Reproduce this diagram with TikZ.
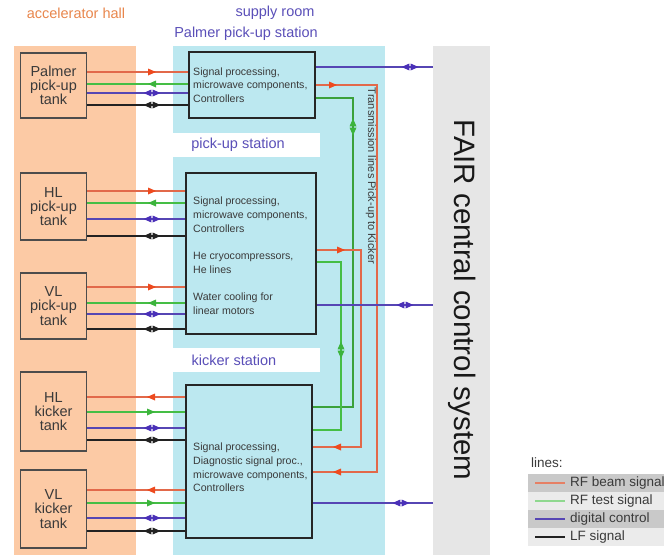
\documentclass[tikz,border=0pt]{standalone}
\usepackage{fontspec}
\setmainfont{Liberation Sans}
\usetikzlibrary{calc}
\definecolor{hallbg}{HTML}{FCCAA5}
\definecolor{roombg}{HTML}{BCE8F0}
\definecolor{fairbg}{HTML}{E6E6E6}
\definecolor{hdrblue}{HTML}{5A4FB8}
\definecolor{hdrorange}{HTML}{E8864C}
\definecolor{rfbcol}{HTML}{E2694A}
\definecolor{rfbtip}{HTML}{EE4A1E}
\definecolor{rftcol}{HTML}{45BE45}
\definecolor{rfttip}{HTML}{3CB43C}
\definecolor{digcol}{HTML}{5646B4}
\definecolor{digtip}{HTML}{4A30B8}
\definecolor{lfcol}{HTML}{222222}
\definecolor{legdark}{HTML}{C9C9C9}
\definecolor{leglight}{HTML}{EBEBEB}
\definecolor{txtcol}{HTML}{3A3A3A}
\tikzset{
  rfbline/.style={draw=rfbcol, line width=1.4pt},
  rftline/.style={draw=rftcol, line width=1.3pt},
  rftthick/.style={draw=rftcol!85!black, line width=1.9pt},
  digline/.style={draw=digcol, line width=1.4pt},
  lfline/.style={draw=lfcol, line width=1.3pt},
  tank/.style={draw=black!70, line width=1.3pt, fill=hallbg, minimum width=66pt,
    align=center, text=txtcol, font=\fontsize{14.5}{14.2}\selectfont, inner sep=0pt},
  stn/.style={draw=black!85, line width=2pt, fill=roombg},
  stntext/.style={anchor=west, align=left, text=txtcol, inner sep=0pt,
    font=\fontsize{10.6}{13.7}\selectfont},
  hdr/.style={text=hdrblue, inner sep=0pt, font=\fontsize{14.5}{17}\selectfont},
  rtip/.pic={\fill (0,0)--(-8,-3.5)--(-8,3.5)--cycle;},
  ltip/.pic={\fill (0,0)--(8,-3.5)--(8,3.5)--cycle;},
  hdbl/.pic={\fill (-8.5,0)--(-0.6,-3.5)--(-0.6,3.5)--cycle; \fill (8.5,0)--(0.6,-3.5)--(0.6,3.5)--cycle;},
  vdbl/.pic={\fill (0,-8.5)--(-3.5,-0.6)--(3.5,-0.6)--cycle; \fill (0,8.5)--(-3.5,0.6)--(3.5,0.6)--cycle;},
  legline/.style={line width=1.4pt},
}
\begin{document}
\begin{tikzpicture}[x=1pt,y=-1pt]
\useasboundingbox (0,0) rectangle (664,555);
% backgrounds
\fill[hallbg] (14,46) rectangle (136,555);
\fill[roombg] (173,46) rectangle (385,555);
\node[fill=fairbg, minimum width=57pt, minimum height=509pt, inner sep=0pt] (fair) at (461.5,300.5) {};
\fill[white] (173,133) rectangle (320,157);
\fill[white] (173,348) rectangle (320,372);
% headers
\node[hdr, text=hdrorange] (hhall) at (76,13) {accelerator hall};
\node[hdr] (hroom) at (275,13) {supply room};
\node[hdr] (hpalm) at (246,34) {Palmer pick-up station};
\node[hdr] (hpu) at (238,145) {pick-up station};
\node[hdr] (hki) at (234,360) {kicker station};
% stations
\node[stn, minimum width=126pt, minimum height=66pt] (sP) at (252,85) {};
\node[stn, minimum width=130pt, minimum height=161pt] (sU) at (251,253.5) {};
\node[stn, minimum width=126pt, minimum height=153pt] (sK) at (249,461.5) {};
% tanks
\node[tank, minimum height=65pt] (tP) at (53.5,85.5) {Palmer\\pick-up\\tank};
\node[tank, minimum height=67pt] (tHP) at (53.5,206.5) {HL\\pick-up\\tank};
\node[tank, minimum height=66pt] (tVP) at (53.5,306) {VL\\pick-up\\tank};
\node[tank, minimum height=79pt] (tHK) at (53.5,411.5) {HL\\kicker\\tank};
\node[tank, minimum height=78pt] (tVK) at (53.5,509) {VL\\kicker\\tank};
% tank <-> station lines
\foreach \t/\s/\ya/\yb/\yc/\yd in {tP/sP/72/84/93/105, tHP/sU/191/203/219/236, tVP/sU/287/303/314/329}{
  \draw[rfbline] (\t.east |- 0,\ya) -- (\s.west |- 0,\ya);
  \draw[rftline] (\t.east |- 0,\yb) -- (\s.west |- 0,\yb);
  \draw[digline] (\t.east |- 0,\yc) -- (\s.west |- 0,\yc);
  \draw[lfline] (\t.east |- 0,\yd) -- (\s.west |- 0,\yd);
  \pic[rfbtip] at (156,\ya) {rtip};
  \pic[rfttip] at (148,\yb) {ltip};
  \pic[digtip] at (152,\yc) {hdbl};
  \pic[lfcol] at (152,\yd) {hdbl};
}
\foreach \t/\ya/\yb/\yc/\yd in {tHK/397/412/428/440, tVK/490/503/518/531}{
  \draw[rfbline] (\t.east |- 0,\ya) -- (sK.west |- 0,\ya);
  \draw[rftline] (\t.east |- 0,\yb) -- (sK.west |- 0,\yb);
  \draw[digline] (\t.east |- 0,\yc) -- (sK.west |- 0,\yc);
  \draw[lfline] (\t.east |- 0,\yd) -- (sK.west |- 0,\yd);
  \pic[rfbtip] at (147,\ya) {ltip};
  \pic[rfttip] at (155,\yb) {rtip};
  \pic[digtip] at (152,\yc) {hdbl};
  \pic[lfcol] at (152,\yd) {hdbl};
}
% transmission buses
\coordinate (busR1) at (377,300);
\coordinate (busR2) at (361,300);
\coordinate (busG1) at (353,300);
\coordinate (busG2) at (341,300);
\draw[rfbline] (sP.east |- 0,85) -| (busR1) |- (sK.east |- 0,472);
\draw[rftthick] (sP.east |- 0,98) -| (busG1) |- (sK.east |- 0,407);
\draw[rfbline] (sU.east |- 0,250) -| (busR2) |- (sK.east |- 0,447);
\draw[rftline] (sU.east |- 0,262) -| (busG2) |- (sK.east |- 0,430);
\pic[rfbtip] at (337,85) {rtip};
\pic[rfbtip] at (333,472) {ltip};
\pic[rfbtip] at (345,250) {rtip};
\pic[rfbtip] at (333,447) {ltip};
\pic[rfttip] at (353,127) {vdbl};
\pic[rfttip] at (341,350) {vdbl};
% digital control to FAIR
\draw[digline] (sP.east |- 0,67) -- (fair.west |- 0,67);
\draw[digline] (sU.east |- 0,305) -- (fair.west |- 0,305);
\draw[digline] (sK.east |- 0,503) -- (fair.west |- 0,503);
\pic[digtip] at (410,67) {hdbl};
\pic[digtip] at (405,305) {hdbl};
\pic[digtip] at (401,503) {hdbl};
% station texts
\node[stntext] (tsP) at (193,85) {Signal processing,\\microwave components,\\Controllers};
\node[stntext] (tsU) at (193,256) {Signal processing,\\microwave components,\\Controllers\\[13.7pt]He cryocompressors,\\He lines\\[13.7pt]Water cooling for\\linear motors};
\node[stntext] (tsK) at (193,467.5) {Signal processing,\\Diagnostic signal proc.,\\microwave components,\\Controllers};
\node[rotate=-90, text=txtcol, inner sep=0pt, font=\fontsize{11}{13}\selectfont] (trans) at (371,176) {Transmission lines Pick-up to Kicker};
\node[rotate=-90, text=black!90, inner sep=0pt, font=\fontsize{29.5}{32}\selectfont] (fairtxt) at (462,300) {FAIR central control system};
% legend
\node[anchor=west, text=txtcol, inner sep=0pt, font=\fontsize{13.5}{16}\selectfont] (leghd) at (531,463) {lines:};
\fill[legdark] (528,474) rectangle (664,492);
\fill[leglight] (528,492) rectangle (664,510);
\fill[legdark] (528,510) rectangle (664,528);
\fill[leglight] (528,528) rectangle (664,546);
\coordinate (l1a) at (535,483); \coordinate (l1b) at (565,483);
\coordinate (l2a) at (535,501); \coordinate (l2b) at (565,501);
\coordinate (l3a) at (535,519); \coordinate (l3b) at (565,519);
\coordinate (l4a) at (535,537); \coordinate (l4b) at (565,537);
\draw[legline, draw=rfbcol!85] (l1a) -- (l1b);
\draw[legline, draw=rftcol!60] (l2a) -- (l2b);
\draw[legline, draw=digcol] (l3a) -- (l3b);
\draw[legline, draw=lfcol] (l4a) -- (l4b);
\foreach \y/\t in {483/RF beam signal, 501/RF test signal, 519/digital control, 537/LF signal}{
  \node[anchor=west, text=txtcol, inner sep=0pt, font=\fontsize{13.5}{16}\selectfont] at (570,\y) {\t};
}
\end{tikzpicture}
\end{document}
